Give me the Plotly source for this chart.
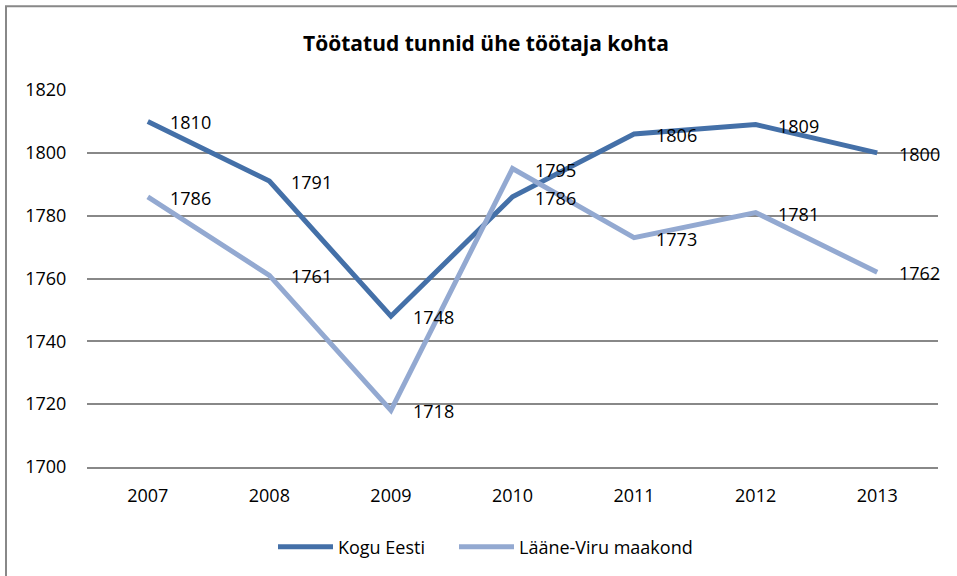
import plotly.graph_objects as go

years = ["2007", "2008", "2009", "2010", "2011", "2012", "2013"]
kogu_eesti = [1810, 1791, 1748, 1786, 1806, 1809, 1800]
laane_viru = [1786, 1761, 1718, 1795, 1773, 1781, 1762]
series_names = ["Kogu Eesti", "Lääne-Viru maakond"]
series_colors = ["#4470A8", "#93A9D1"]
y_ticks = [1700, 1720, 1740, 1760, 1780, 1800, 1820]
title_text = "Töötatud tunnid ühe töötaja kohta"

FONT = "Open Sans"
FS = 18
W, H = 957, 576
L, R, T, B = 87, 19, 90, 108
pw = W - L - R
ph = H - T - B

fig = go.Figure()
annotations = []
legend_ids = ["legend", "legend2"]
for name, vals, col, lg in zip(series_names, [kogu_eesti, laane_viru], series_colors, legend_ids):
    fig.add_trace(go.Scatter(
        x=years, y=vals, mode="lines", name=name,
        line=dict(color=col, width=5),
        hoverinfo="x+y", legend=lg,
    ))
    for i, yv in enumerate(vals):
        annotations.append(dict(
            x=i, y=yv, xref="x", yref="y", text=str(yv), showarrow=False,
            xanchor="left", yanchor="middle", xshift=20, yshift=-1,
            font=dict(family=FONT, size=FS, color="#000000"),
        ))

legend_common = dict(orientation="h", xanchor="left", y=(T + ph - 547) / ph,
                     yanchor="middle", itemwidth=55,
                     font=dict(family=FONT, size=FS), bgcolor="rgba(0,0,0,0)")

fig.update_layout(
    width=W, height=H,
    margin=dict(l=L, r=R, t=T, b=B),
    paper_bgcolor="white", plot_bgcolor="white",
    font=dict(family=FONT, size=FS, color="#000000"),
    title=dict(text="<b>" + title_text + "</b>", x=486 / W, xref="container", xanchor="center",
               y=1 - 44 / H, yref="container", yanchor="middle",
               font=dict(family=FONT, size=21, color="#000000")),
    showlegend=True,
    legend=dict(x=(273 - L) / pw, **legend_common),
    legend2=dict(x=(454 - L) / pw, **legend_common),
    annotations=annotations,
    shapes=[dict(type="rect", xref="paper", yref="paper", layer="below",
                 x0=(6 - L) / pw, x1=1.2, y0=-0.8, y1=1 + (T - 6) / ph,
                 line=dict(color="#888888", width=2), fillcolor="rgba(0,0,0,0)")],
)
fig.update_xaxes(type="category", range=[-0.5, 6.5], showgrid=False, zeroline=False,
                 showline=True, linecolor="#888888", linewidth=1.5,
                 ticks="outside", ticklen=12, tickcolor="rgba(0,0,0,0)",
                 tickfont=dict(family=FONT, size=FS))
fig.update_yaxes(range=[1700, 1820], tickvals=y_ticks, showgrid=True, gridcolor="#888888",
                 gridwidth=1.5, zeroline=False, showline=False, ticks="outside", ticklen=16,
                 tickcolor="rgba(0,0,0,0)", tickfont=dict(family=FONT, size=FS))

fig.write_html("out.html", config={"displayModeBar": False},
               post_script="document.body.style.margin='0';document.body.style.overflow='hidden';")
